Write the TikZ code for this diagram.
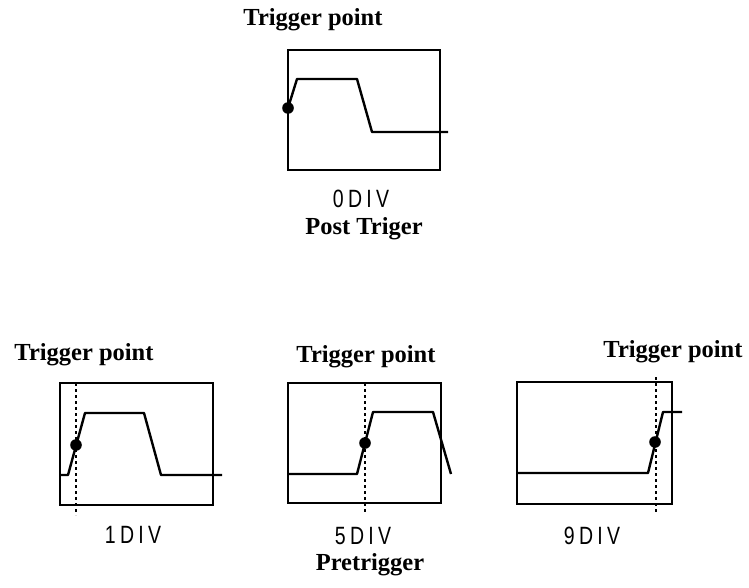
\documentclass[tikz,border=0pt]{standalone}
\usepackage{fontspec}
\usepackage{graphicx}
\setmainfont{Liberation Serif}
\newfontfamily\divfont[LetterSpace=22]{Liberation Sans}
\tikzset{
  frame/.style={line width=2.2pt},
  wave/.style={line width=2.4pt, line join=round},
  trigline/.style={line width=1.5pt, dash pattern=on 3pt off 3pt},
  trigdot/.style={fill=black},
  lbl/.style={inner sep=0pt, font=\bfseries\fontsize{24.5}{24.5}\selectfont},
  divlbl/.style={inner sep=0pt, font=\divfont\fontsize{25}{25}\selectfont},
}
\newcommand{\divtext}[1]{\scalebox{0.78}[1]{#1}}
\begin{document}
\begin{tikzpicture}[x=1pt,y=-1pt]
\useasboundingbox (0,0) rectangle (749,588);
% ---- top: post trigger ----
\node[lbl] (tp0) at (313,20) {Trigger point};
\draw[frame] (288,50) rectangle (440,170);
\draw[wave] (288,108) -- (297,79) -- (357,79) -- (372,132) -- (448,132);
\fill[trigdot] (288,108) circle (5.8);
\node[divlbl] (d0) at (361,199) {\divtext{0DIV}};
\node[lbl] (post) at (364,229) {Post Triger};
% ---- bottom left: 1 DIV ----
\node[lbl] (tp1) at (84,355) {Trigger point};
\draw[frame] (60,383) rectangle (213,505);
\draw[trigline] (76,383) -- (76,515);
\draw[wave] (61,475) -- (68,475) -- (85,413) -- (144,413) -- (161,475) -- (222,475);
\fill[trigdot] (76,445) circle (5.8);
\node[divlbl] (d1) at (133,535) {\divtext{1DIV}};
% ---- bottom middle: 5 DIV ----
\node[lbl] (tp5) at (366,357) {Trigger point};
\draw[frame] (288,383) rectangle (441,503);
\draw[trigline] (365,383) -- (365,513);
\draw[wave] (289,474) -- (357,474) -- (373,412) -- (433,412) -- (451,474);
\fill[trigdot] (365,443) circle (5.8);
\node[divlbl] (d5) at (363,536) {\divtext{5DIV}};
\node[lbl] (pre) at (370,565) {Pretrigger};
% ---- bottom right: 9 DIV ----
\node[lbl] (tp9) at (673,352) {Trigger point};
\draw[frame] (517,382) rectangle (672,504);
\draw[trigline] (656,377) -- (656,512);
\draw[wave] (518,473) -- (648,473) -- (663,412) -- (682,412);
\fill[trigdot] (655,442) circle (5.8);
\node[divlbl] (d9) at (592,536) {\divtext{9DIV}};
\end{tikzpicture}
\end{document}
